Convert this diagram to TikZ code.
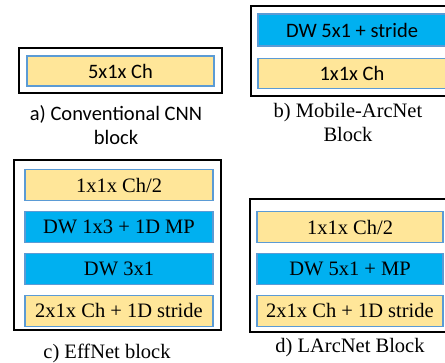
\documentclass[tikz,border=0pt]{standalone}
\usepackage{fontspec}
\setmainfont{Liberation Serif}
\newfontfamily\calfont{Carlito}
\usetikzlibrary{positioning}
\definecolor{chyellow}{HTML}{FFE699}
\definecolor{dwblue}{HTML}{00B0F0}
\definecolor{rimblue}{HTML}{5B9BD5}
\tikzset{
  frame/.style={draw=black,line width=2.6pt},
  blk/.style={draw=rimblue,line width=1.4pt,minimum height=31pt,inner sep=0pt},
  chblk/.style={blk,fill=chyellow},
  dwblk/.style={blk,fill=dwblue},
  sans/.style={font=\fontsize{20.5}{24}\calfont},
  every node/.style={font=\fontsize{20.5}{24}\selectfont},
  captxt/.style={align=center}
}

\begin{document}
\begin{tikzpicture}[x=1pt,y=-1pt]
\clip (0,0) rectangle (445,362);

% a) conventional block
\draw[frame] (19,48) rectangle (222,93);
\node[chblk,sans,minimum width=187pt,minimum height=30pt] (a1) at (120.5,71) {5x1x Ch};
\node[captxt,sans] (acap) at (116,125) {a) Conventional CNN\\block};

% b) mobile-arcnet block
\draw[frame] (251,6) rectangle (454,96);
\node[dwblk,sans,minimum width=188pt,minimum height=32pt] (b1) at (352,30) {DW 5x1 + stride};
\node[chblk,sans,minimum width=188pt,minimum height=30pt,below=11pt of b1] (b2) {1x1x Ch};
\node[captxt] (bcap) at (348,122.5) {b) Mobile-ArcNet\\Block};

% c) effnet block
\draw[frame] (14,160) rectangle (221,330);
\begin{scope}[node distance=9.5pt,every node/.append style={minimum width=188pt}]
\node[chblk] (c1) at (119,185) {1x1x Ch/2};
\node[dwblk,below=of c1] (c2) {DW 1x3 + 1D MP};
\node[dwblk,below=of c2] (c3) {DW 3x1};
\node[chblk,below=of c3] (c4) {2x1x Ch + 1D stride};
\end{scope}
\node (ccap) at (107,353) {c) EffNet block};

% d) larcnet block
\draw[frame] (250,199) rectangle (455,332);
\begin{scope}[node distance=9.5pt,every node/.append style={minimum width=186pt}]
\node[chblk] (d1) at (350,227) {1x1x Ch/2};
\node[dwblk,below=of d1] (d2) {DW 5x1 + MP};
\node[chblk,below=of d2] (d3) {2x1x Ch + 1D stride};
\end{scope}
\node (dcap) at (350,348) {d) LArcNet Block};
\end{tikzpicture}
\end{document}
